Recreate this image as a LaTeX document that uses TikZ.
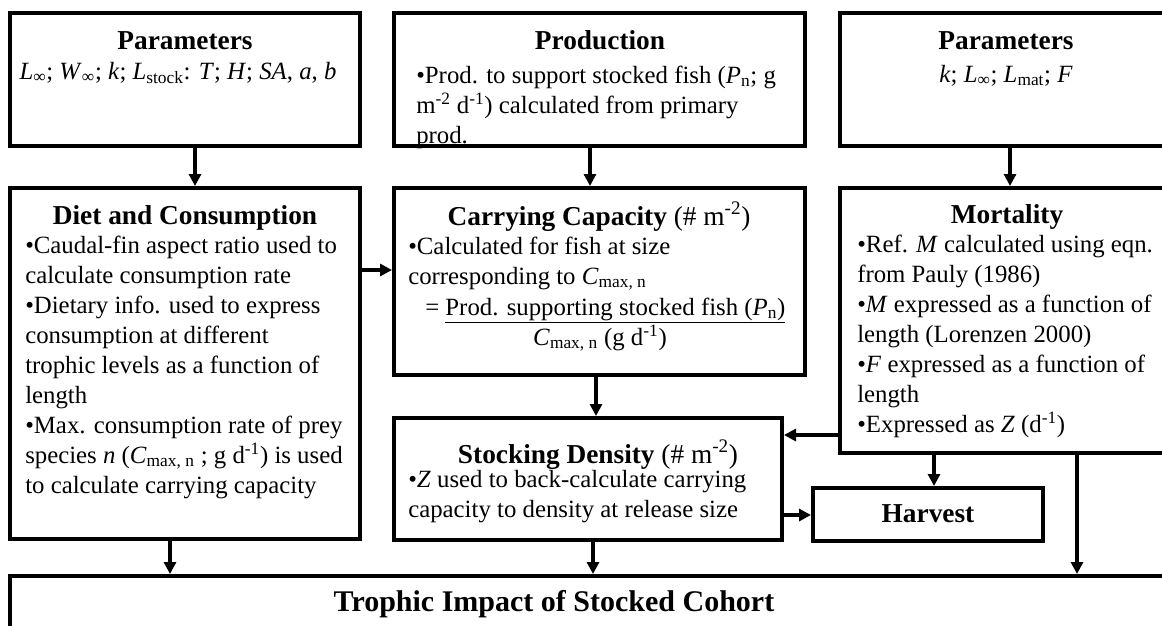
\documentclass[tikz,border=0pt]{standalone}
\usepackage{fontspec}
\setmainfont{Liberation Serif}
\usetikzlibrary{arrows.meta,fit}
\begin{document}
\begin{tikzpicture}[x=0.75pt,y=-0.75pt,
  boxnode/.style={draw=black,line width=3pt,inner sep=0pt,fill=white},
  arr/.style={line width=2.3pt,-{Triangle[length=9pt,width=9pt]}},
  ttl/.style={font=\fontsize{20.5}{24}\selectfont\bfseries,inner sep=0pt,anchor=base},
  body/.style={font=\fontsize{18.6}{22.5}\selectfont,inner sep=0pt,align=left,anchor=base west},
]
\useasboundingbox (0,0) rectangle (1162,625);
\clip (0,0) rectangle (1162,625);
\fill[white] (0,0) rectangle (1162,625);

% boxes
\node[boxnode,fit={(10,13) (360,146)}] (p1) {};
\node[boxnode,fit={(394,13) (805,146)}] (prod) {};
\node[boxnode,fit={(840,13) (1172,146)}] (p2) {};
\node[boxnode,fit={(10,188) (360,539)}] (diet) {};
\node[boxnode,fit={(394,188) (805,375)}] (cc) {};
\node[boxnode,fit={(840,188) (1172,453)}] (mort) {};
\node[boxnode,fit={(394,418) (782,540)}] (sd) {};
\node[boxnode,fit={(813,488) (1043,541)}] (harv) {};
\node[boxnode,fit={(10,576) (1172,630)}] (trop) {};

% texts (multi-line nodes are anchored at the baseline of their last line)
\node[ttl] (p1t) at (185,49) {Parameters};
\node[body,anchor=base] (p1b) at (178,79) {\textit{L}\textsubscript{∞}; \textit{W}\textsubscript{∞}; \textit{k}; \textit{L}\textsubscript{stock}: \textit{T}; \textit{H}; \textit{SA}, \textit{a}, \textit{b}};

\node[ttl] (prodt) at (600,49) {Production};
\node[body] (prodb) at (416,143) {•Prod. to support stocked fish (\textit{P}\textsubscript{n}; g\\ m\textsuperscript{-2} d\textsuperscript{-1}) calculated from primary\\ prod.};

\node[ttl] (p2t) at (1006,49) {Parameters};
\node[body,anchor=base] (p2b) at (1006,82) {\textit{k}; \textit{L}\textsubscript{∞}; \textit{L}\textsubscript{mat}; \textit{F}};

\node[ttl] (dietT) at (185,224) {Diet and Consumption};
\node[body] (dietB) at (25,493) {•Caudal-fin aspect ratio used to\\ calculate consumption rate\\ •Dietary info. used to express\\ consumption at different\\ trophic levels as a function of\\ length\\ •Max. consumption rate of prey\\ species \textit{n} (\textit{C}\textsubscript{max, n} ; g d\textsuperscript{-1}) is used\\ to calculate carrying capacity};

\node[ttl] (ccT) at (599,225) {Carrying Capacity \mdseries(\# m\textsuperscript{-2})};
\node[body] (ccB) at (408,284) {•Calculated for fish at size\\ corresponding to \textit{C}\textsubscript{max, n}};
\node[body] (ccF) at (425,315) {= \underline{Prod. supporting stocked fish (\textit{P}\textsubscript{n})}};
\node[body,anchor=base] (ccD) at (600,345) {\textit{C}\textsubscript{max, n} (g d\textsuperscript{-1})};

\node[ttl] (mortT) at (1007,223) {Mortality};
\node[body] (mortB) at (857,432) {•Ref. \textit{M} calculated using eqn.\\ from Pauly (1986)\\ •\textit{M} expressed as a function of\\ length (Lorenzen 2000)\\ •\textit{F} expressed as a function of\\ length\\ •Expressed as \textit{Z} (d\textsuperscript{-1})};

\node[ttl] (sdT) at (598,463) {Stocking Density \mdseries(\# m\textsuperscript{-2})};
\node[body] (sdB) at (408,517) {•\textit{Z} used to back-calculate carrying\\ capacity to density at release size};

\node[ttl] (harvT) at (928,522) {Harvest};
\node[ttl,font=\fontsize{22.5}{26}\selectfont\bfseries] (tropT) at (554,611) {Trophic Impact of Stocked Cohort};

% connectors
\draw[arr] (p1.south -| 195,0) -- (diet.north -| 195,0);
\draw[arr] (prod.south -| 590,0) -- (cc.north -| 590,0);
\draw[arr] (p2.south -| 1010,0) -- (mort.north -| 1010,0);
\draw[arr] (diet.east |- 0,270) -- (cc.west |- 0,270);
\draw[arr] (cc.south -| 596,0) -- (sd.north -| 596,0);
\draw[arr] (mort.west |- 0,435) -- (sd.east |- 0,435);
\draw[arr] (mort.south -| 934,0) -- (harv.north -| 934,0);
\draw[arr] (sd.east |- 0,515) -- (harv.west |- 0,515);
\draw[arr] (mort.south -| 1077,0) -- (trop.north -| 1077,0);
\draw[arr] (sd.south -| 593,0) -- (trop.north -| 593,0);
\draw[arr] (diet.south -| 170,0) -- (trop.north -| 170,0);
\end{tikzpicture}
\end{document}
